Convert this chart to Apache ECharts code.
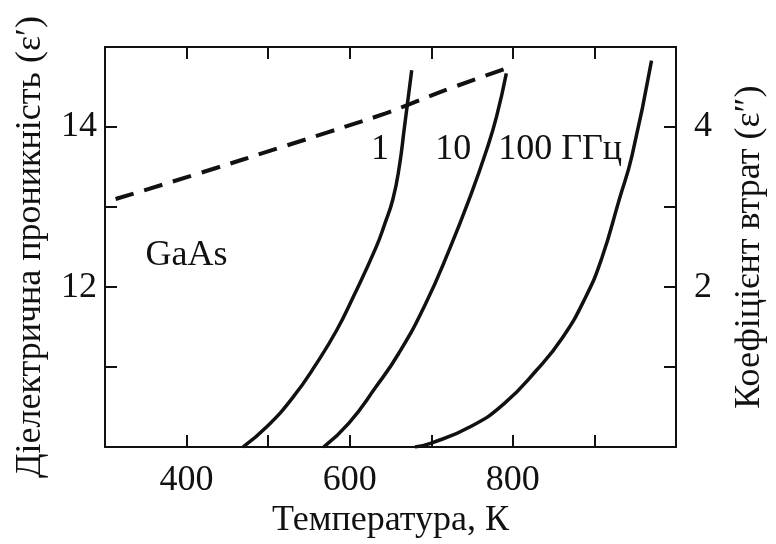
<!DOCTYPE html>
<html><head><meta charset="utf-8">
<script src="https://cdn.jsdelivr.net/npm/echarts@6/dist/echarts.min.js"></script>
<style>html,body{margin:0;padding:0;background:#fff;overflow:hidden;width:776px;height:544px}#c{width:776px;height:544px}</style>
</head><body><div id="c"></div>
<script>
// Dielectric permittivity ε' (left axis), dashed
const epsT = [313, 415, 523, 572, 644, 672, 725, 797];
const epsV = [13.10, 13.42, 13.77, 13.93, 14.17, 14.28, 14.49, 14.75];
// Loss factor ε'' (right axis) for 1, 10, 100 GHz
const f1T = [469, 499, 531, 559, 584, 604, 632, 643, 653, 661, 667, 671, 676];
const f1V = [0, 0.26, 0.63, 1.04, 1.46, 1.87, 2.49, 2.79, 3.10, 3.52, 3.99, 4.31, 4.71];
const f10T = [568, 599, 632, 660, 692, 723, 748, 768, 780, 792];
const f10V = [0, 0.30, 0.75, 1.17, 1.77, 2.49, 3.14, 3.72, 4.13, 4.67];
const f100T = [680, 700, 749, 789, 829, 861, 889, 909, 930, 946, 970];
const f100V = [0, 0.05, 0.26, 0.54, 0.96, 1.37, 1.87, 2.36, 3.08, 3.64, 4.83];
// tick labels
const xLabels = [400, 600, 800];
const yLeftLabels = [12, 14];
const yRightLabels = [2, 4];
// annotations [T, ε', text]
const notes = [[637, 13.72, '1'], [727, 13.72, '10'], [858, 13.72, '100 ГГц'], [400, 12.40, 'GaAs']];

const FONT = 'Liberation Serif';
const FS = 36;
const INK = '#111';
const zip = (a, b) => a.map((v, i) => [v, b[i]]);
const axLine = {show: true, lineStyle: {color: INK, width: 2}};
const tick = {show: true, inside: true, length: 12, lineStyle: {color: INK, width: 2}};
const lab = (list, margin) => ({show: true, margin: margin, color: INK, fontFamily: FONT, fontSize: FS,
  formatter: v => list.indexOf(v) >= 0 ? String(v) : ''});

const chart = echarts.init(document.getElementById('c'), null, {renderer: 'canvas', width: 776, height: 544});
const curve = (t, v) => ({type: 'line', xAxisIndex: 0, yAxisIndex: 1, data: zip(t, v), showSymbol: false,
  smooth: true, lineStyle: {color: INK, width: 3.5}, silent: true});
chart.setOption({
  animation: false,
  grid: {left: 105, top: 47, right: 91, bottom: 93},
  xAxis: [
    {type: 'value', min: 300, max: 1000, interval: 100, position: 'bottom', axisLine: axLine, axisTick: tick,
     axisLabel: lab(xLabels, 15), splitLine: {show: false},
     name: 'Температура, К', nameLocation: 'middle', nameGap: 51,
     nameTextStyle: {fontFamily: FONT, fontSize: FS, color: INK}},
    {type: 'value', min: 300, max: 1000, interval: 100, position: 'top', axisLine: axLine, axisTick: tick,
     axisLabel: {show: false}, splitLine: {show: false}}
  ],
  yAxis: [
    {type: 'value', min: 10, max: 15, interval: 1, position: 'left', axisLine: axLine, axisTick: tick,
     axisLabel: lab(yLeftLabels, 8), splitLine: {show: false},
     name: 'Діелектрична проникність (ε′)', nameLocation: 'middle', nameGap: 56, nameRotate: 90,
     nameTextStyle: {fontFamily: FONT, fontSize: FS, color: INK}},
    {type: 'value', min: 0, max: 5, interval: 1, position: 'right', axisLine: axLine, axisTick: tick,
     axisLabel: lab(yRightLabels, 18), splitLine: {show: false},
     name: 'Коефіцієнт втрат (ε″)', nameLocation: 'middle', nameGap: 56, nameRotate: 90,
     nameTextStyle: {fontFamily: FONT, fontSize: FS, color: INK}}
  ],
  series: [
    {type: 'line', xAxisIndex: 0, yAxisIndex: 0, data: zip(epsT, epsV), showSymbol: false, smooth: true,
     lineStyle: {color: INK, width: 4, type: [19, 11]}, silent: true},
    curve(f1T, f1V), curve(f10T, f10V), curve(f100T, f100V)
  ]
});
// annotation texts placed through the chart's own coordinate conversion
chart.setOption({
  graphic: notes.map(n => {
    const p = chart.convertToPixel({xAxisIndex: 0, yAxisIndex: 0}, [n[0], n[1]]);
    return {type: 'text', x: p[0], y: p[1], silent: true, z: 10,
            style: {text: n[2], fill: INK, font: FS + 'px "' + FONT + '"', align: 'center', verticalAlign: 'middle'}};
  })
});
</script></body></html>
